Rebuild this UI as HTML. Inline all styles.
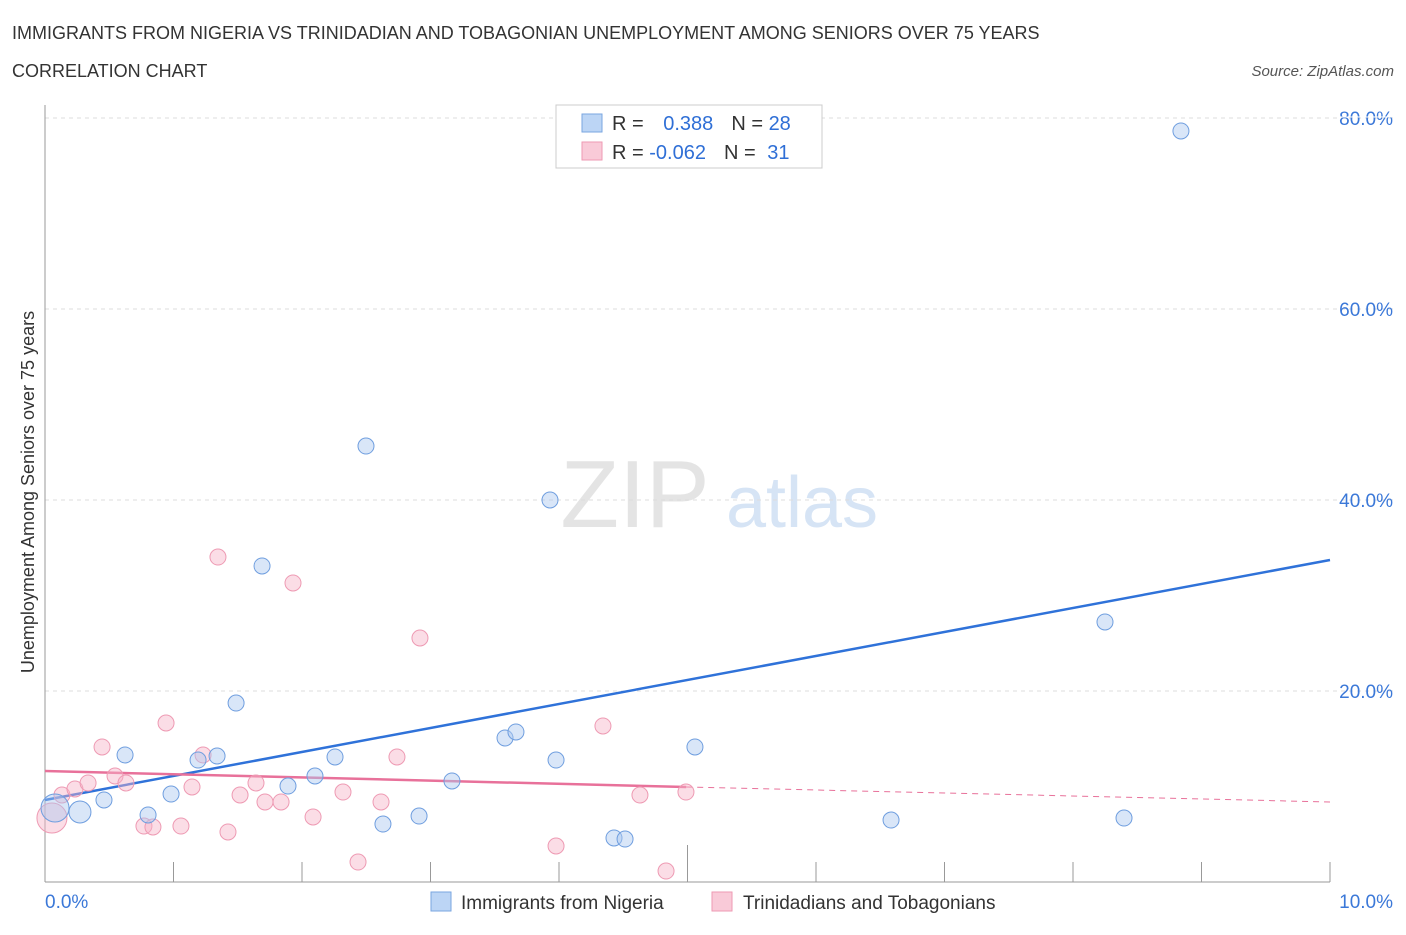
<!DOCTYPE html>
<html><head><meta charset="utf-8"><style>
body{margin:0;background:#fff;font-family:"Liberation Sans",sans-serif;}
svg text{font-family:"Liberation Sans",sans-serif;}
</style></head><body>
<svg id="c" width="1406" height="930" xmlns="http://www.w3.org/2000/svg">
<text x="12" y="39" font-size="18" fill="#333">IMMIGRANTS FROM NIGERIA VS TRINIDADIAN AND TOBAGONIAN UNEMPLOYMENT AMONG SENIORS OVER 75 YEARS</text>
<text x="12" y="77" font-size="18" fill="#333">CORRELATION CHART</text>
<text x="1394" y="76" font-size="15" fill="#555" font-style="italic" text-anchor="end">Source: ZipAtlas.com</text>
<g>
<text x="635" y="527" font-size="96" fill="#e4e4e4" font-family="Liberation Serif" text-anchor="middle">ZIP</text>
<text x="802" y="527" font-size="72" fill="#d6e4f5" text-anchor="middle">atlas</text>
</g>
<g id="grid"></g><g id="axes"></g><g id="trend"></g><g id="pts"></g>
<text transform="translate(34,492) rotate(-90)" font-size="18" fill="#333" text-anchor="middle">Unemployment Among Seniors over 75 years</text>
<g>
<rect x="556" y="105" width="266" height="63" fill="#fff" stroke="#ccc"/>
<rect x="582" y="114" width="20" height="18" fill="#bcd5f5" stroke="#7aa6e0"/>
<rect x="582" y="142" width="20" height="18" fill="#f9cad8" stroke="#ee9ab3"/>
<text x="612" y="130" font-size="20" fill="#333">R = <tspan fill="#2f6fd6" dx="14">0.388</tspan><tspan fill="#333" dx="18">N = </tspan><tspan fill="#2f6fd6">28</tspan></text>
<text x="612" y="159" font-size="20" fill="#333">R = <tspan fill="#2f6fd6">-0.062</tspan><tspan fill="#333" dx="18">N = </tspan><tspan fill="#2f6fd6" dx="6">31</tspan></text>
</g>
<g>
<rect x="431" y="892" width="20" height="19" fill="#bcd5f5" stroke="#7aa6e0"/>
<text x="461" y="909" font-size="19" fill="#333">Immigrants from Nigeria</text>
<rect x="712" y="892" width="20" height="19" fill="#f9cad8" stroke="#ee9ab3"/>
<text x="743" y="909" font-size="19" fill="#333">Trinidadians and Tobagonians</text>
</g>
</svg>
<script>
const blueX=[0.078,0.272,0.459,0.623,0.802,0.981,1.191,1.339,1.487,1.689,1.891,2.101,2.257,2.498,2.630,2.911,3.167,3.580,3.665,3.930,3.977,4.428,4.514,5.058,6.584,8.249,8.397,8.840];
const blueY=[7.75,7.33,8.59,13.30,7.02,9.21,12.77,13.19,18.74,33.09,10.05,11.10,13.09,45.65,6.07,6.91,10.58,15.08,15.71,40.0,12.77,4.61,4.50,14.14,6.49,27.23,6.70,78.64];
const pinkX=[0.054,0.132,0.233,0.335,0.444,0.545,0.630,0.770,0.840,0.942,1.058,1.144,1.230,1.346,1.424,1.518,1.642,1.712,1.837,1.930,2.086,2.319,2.436,2.615,2.739,2.918,3.977,4.342,4.630,4.833,4.988];
const pinkY=[6.70,9.11,9.74,10.37,14.14,11.10,10.37,5.86,5.76,16.65,5.86,9.95,13.30,34.03,5.24,9.11,10.37,8.38,8.38,31.31,6.81,9.42,2.09,8.38,13.09,25.55,3.77,16.34,9.11,1.15,9.42];
const yTicks=[20,40,60,80];
const yTickLabels=["20.0%","40.0%","60.0%","80.0%"];
const blueTrend=[8.59,33.72];
const pinkTrend=[11.62,9.95,8.38];
const NS="http://www.w3.org/2000/svg";
const X=v=>45+v*128.5, Y=v=>882-v*9.55;
function mk(p,t,a){const e=document.createElementNS(NS,t);for(const k in a)e.setAttribute(k,a[k]);document.getElementById(p).appendChild(e);return e;}
yTicks.forEach((t,i)=>{
 const l=mk('grid','line',{x1:45,x2:1395,y1:Y(t),y2:Y(t),stroke:'#ddd','stroke-dasharray':'4,4'});
 
 
 const tx=mk('grid','text',{x:1393,y:Y(t)+7,'font-size':19,fill:'#3b78d8','text-anchor':'end'});
 tx.textContent=yTickLabels[i];
 
 
});
const l1=mk('grid','line',{x1:45,x2:1395,y1:Y(80)-1,y2:Y(80)-1,stroke:'#fff'});
const ax=mk('axes','line',{x1:45,x2:1330,y1:882,y2:882,stroke:'#999'});


const ay=mk('axes','line',{x1:45,x2:45,y1:105,y2:882,stroke:'#999'});


for(let i=1;i<=10;i++){const t=mk('axes','line',{x1:X(i),x2:X(i),y1:i==5?845:862,y2:882,stroke:'#999'});
 
 }
const x0=mk('axes','text',{x:45,y:908,'font-size':19,fill:'#3b78d8'});x0.textContent='0.0%';


const x1=mk('axes','text',{x:1393,y:908,'font-size':19,fill:'#3b78d8','text-anchor':'end'});x1.textContent='10.0%';


const bt=mk('trend','line',{x1:X(0),y1:Y(blueTrend[0]),x2:X(10),y2:Y(blueTrend[1]),stroke:'#2f72d9','stroke-width':2.5});


const pt=mk('trend','line',{x1:X(0),y1:Y(pinkTrend[0]),x2:X(4.99),y2:Y(pinkTrend[1]),stroke:'#e8719a','stroke-width':2.5});


const pd=mk('trend','line',{x1:X(4.99),y1:Y(pinkTrend[1]),x2:X(10),y2:Y(pinkTrend[2]),stroke:'#e8719a','stroke-width':1,'stroke-dasharray':'6,5'});


pinkX.forEach((x,i)=>{const c=mk('pts','circle',{cx:X(x),cy:Y(pinkY[i]),r:i==0?15:8,fill:'rgba(246,180,200,0.45)',stroke:'#ee9ab3','stroke-width':1});
 
 });
blueX.forEach((x,i)=>{const c=mk('pts','circle',{cx:X(x),cy:Y(blueY[i]),r:i==0?14:(i==1?11:8),fill:'rgba(170,200,240,0.45)',stroke:'#6f9edf','stroke-width':1});
 
 });
</script>
</body></html>
